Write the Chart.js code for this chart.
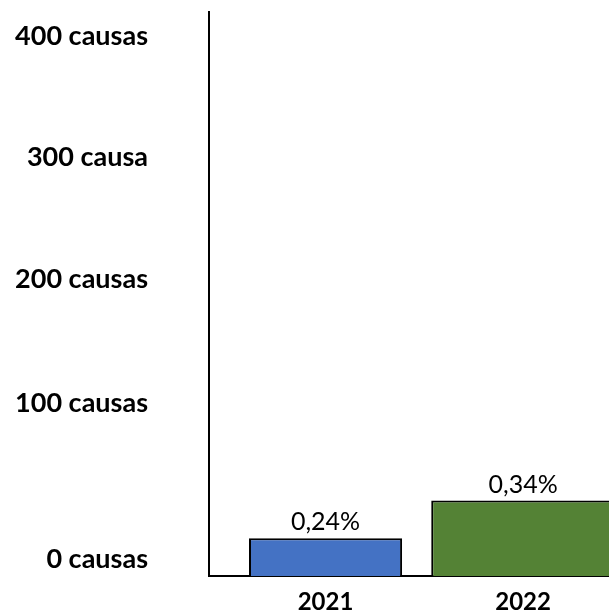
<!DOCTYPE html>
<html>
<head>
<meta charset="utf-8">
<script src="https://cdn.jsdelivr.net/npm/chart.js@4"></script>
<style>
    html, body { margin: 0; padding: 0; background: #fff; }
    .chartBox { width: 609px; height: 614px; }
</style>
</head>
<body>
<div class="chartBox"><canvas id="chart"></canvas></div>
<script>
const years = [2021, 2022];
const causas = [31, 62];
const shareLabels = ['0,24%', '0,34%'];
const barColors = ['#4472C4', '#548235'];
const yTickLabels = ['0 causas', '100 causas', '200 causas', '300 causa', '400 causas'];
const yTickValues = [14, 142, 244, 344, 444];  // where each label sits on the axis

Chart.defaults.font.family = 'Lato, "Liberation Sans", sans-serif';
Chart.defaults.color = '#000';

// percentage text above each bar
const shareLabelPlugin = {
    id: 'shareLabels',
    afterDatasetsDraw(chart) {
        const ctx = chart.ctx;
        ctx.save();
        ctx.font = '25px Lato, "Liberation Sans", sans-serif';
        ctx.fillStyle = '#000';
        ctx.textAlign = 'center';
        ctx.textBaseline = 'alphabetic';
        chart.data.datasets.forEach((ds, i) => {
            const bar = chart.getDatasetMeta(i).data[0];
            ctx.fillText(shareLabels[i], bar.x, bar.y - 8);
        });
        ctx.restore();
    }
};

const data = {
    datasets: years.map((yr, i) => ({
        label: String(yr),
        data: [{ x: yr, y: causas[i] }],
        backgroundColor: barColors[i],
        borderColor: '#000',
        borderWidth: 2,
        borderSkipped: 'start',
        grouped: false,
        categoryPercentage: 1,
        barPercentage: i === 0 ? 0.775 : 0.93
    }))
};

const config = {
    type: 'bar',
    data: data,
    plugins: [shareLabelPlugin],
    options: {
        responsive: true,
        maintainAspectRatio: false,
        animation: false,
        layout: { padding: { top: 12, left: 0, right: 0, bottom: 0 } },
        scales: {
            x: {
                type: 'linear',
                offset: false,
                bounds: 'data',
                min: 2020.41,
                max: 2022.435,
                grid: { display: false, drawTicks: false },
                border: { color: '#000', width: 2 },
                afterBuildTicks: axis => { axis.ticks = years.map(v => ({ value: v })); },
                afterFit: axis => {
                    axis.height = 38;
                    axis.paddingLeft = 0;
                    axis.paddingRight = 0;
                },
                ticks: {
                    padding: 12,
                    autoSkip: false,
                    maxRotation: 0,
                    font: { size: 24, weight: 'bold' },
                    callback: (v, i) => String(years[i])
                }
            },
            y: {
                min: 0,
                max: 463.6,
                bounds: 'data',
                grid: { display: false, drawTicks: false },
                border: { color: '#000', width: 2 },
                afterBuildTicks: axis => { axis.ticks = yTickValues.map(v => ({ value: v })); },
                afterFit: axis => {
                    axis.width = 209;
                    // the wide label gap should not shrink the plot vertically
                    axis.paddingTop = 0;
                    axis.paddingBottom = 0;
                },
                ticks: {
                    padding: 61,
                    autoSkip: false,
                    font: { size: 27, weight: 'bold' },
                    callback: (v, i) => yTickLabels[i]
                }
            }
        },
        plugins: {
            legend: { display: false },
            tooltip: { enabled: false }
        }
    }
};

new Chart(document.getElementById('chart'), config);
</script>
</body>
</html>
